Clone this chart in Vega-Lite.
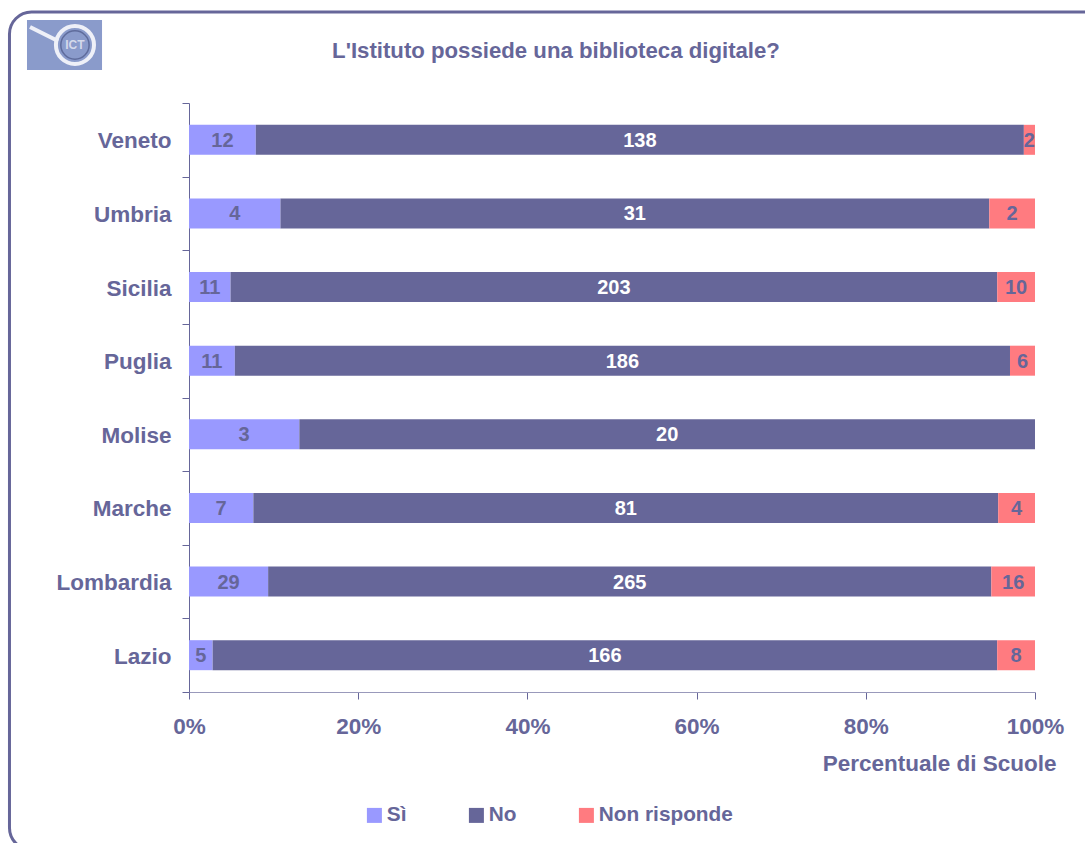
{
  "$schema": "https://vega.github.io/schema/vega-lite/v6.json",
  "width": 846,
  "height": 589,
  "autosize": {"type": "none"},
  "padding": {"left": 189, "top": 103, "right": 50, "bottom": 151},
  "background": "white",
  "view": {"stroke": null},
  "config": {"font": "Liberation Sans"},
  "title": {
    "text": "L'Istituto possiede una biblioteca digitale?",
    "font": "Liberation Sans",
    "fontSize": 22.2,
    "fontWeight": "bold",
    "color": "#666699",
    "anchor": "middle",
    "frame": "group",
    "dx": -56,
    "offset": -52
  },
  "datasets": {
    "rows": [
      {"regione": "Veneto", "risposta": "Sì", "ordine": 1, "scuole": 12},
      {"regione": "Veneto", "risposta": "No", "ordine": 2, "scuole": 138},
      {"regione": "Veneto", "risposta": "Non risponde", "ordine": 3, "scuole": 2},
      {"regione": "Umbria", "risposta": "Sì", "ordine": 1, "scuole": 4},
      {"regione": "Umbria", "risposta": "No", "ordine": 2, "scuole": 31},
      {"regione": "Umbria", "risposta": "Non risponde", "ordine": 3, "scuole": 2},
      {"regione": "Sicilia", "risposta": "Sì", "ordine": 1, "scuole": 11},
      {"regione": "Sicilia", "risposta": "No", "ordine": 2, "scuole": 203},
      {"regione": "Sicilia", "risposta": "Non risponde", "ordine": 3, "scuole": 10},
      {"regione": "Puglia", "risposta": "Sì", "ordine": 1, "scuole": 11},
      {"regione": "Puglia", "risposta": "No", "ordine": 2, "scuole": 186},
      {"regione": "Puglia", "risposta": "Non risponde", "ordine": 3, "scuole": 6},
      {"regione": "Molise", "risposta": "Sì", "ordine": 1, "scuole": 3},
      {"regione": "Molise", "risposta": "No", "ordine": 2, "scuole": 20},
      {"regione": "Marche", "risposta": "Sì", "ordine": 1, "scuole": 7},
      {"regione": "Marche", "risposta": "No", "ordine": 2, "scuole": 81},
      {"regione": "Marche", "risposta": "Non risponde", "ordine": 3, "scuole": 4},
      {"regione": "Lombardia", "risposta": "Sì", "ordine": 1, "scuole": 29},
      {"regione": "Lombardia", "risposta": "No", "ordine": 2, "scuole": 265},
      {"regione": "Lombardia", "risposta": "Non risponde", "ordine": 3, "scuole": 16},
      {"regione": "Lazio", "risposta": "Sì", "ordine": 1, "scuole": 5},
      {"regione": "Lazio", "risposta": "No", "ordine": 2, "scuole": 166},
      {"regione": "Lazio", "risposta": "Non risponde", "ordine": 3, "scuole": 8}
    ]
  },
  "resolve": {
    "scale": {"x": "independent", "y": "independent"},
    "axis": {"x": "independent", "y": "independent"}
  },
  "layer": [
    {
      "data": {"values": [{"x0": -0.2122, "x1": 1.085, "y0": -0.268, "y1": 1.1545}]},
      "mark": {"type": "rect", "fill": "transparent", "stroke": "#666699", "strokeWidth": 3, "cornerRadius": 22, "clip": false},
      "encoding": {
        "x": {"field": "x0", "type": "quantitative", "scale": {"domain": [0, 1], "nice": false}, "axis": null},
        "x2": {"field": "x1"},
        "y": {"field": "y0", "type": "quantitative", "scale": {"domain": [0, 1], "nice": false, "zero": false}, "axis": null},
        "y2": {"field": "y1"}
      }
    },
    {
      "data": {"values": [{"x0": -0.1915, "x1": -0.1028, "y0": 1.056, "y1": 1.1409}]},
      "mark": {"type": "rect", "fill": "#8a9bcb", "clip": false},
      "encoding": {
        "x": {"field": "x0", "type": "quantitative", "scale": {"domain": [0, 1], "nice": false}, "axis": null},
        "x2": {"field": "x1"},
        "y": {"field": "y0", "type": "quantitative", "scale": {"domain": [0, 1], "nice": false, "zero": false}, "axis": null},
        "y2": {"field": "y1"}
      }
    },
    {
      "data": {"values": [{"x0": -0.1879, "x1": -0.1548, "y0": 1.129, "y1": 1.1053}]},
      "mark": {"type": "rule", "color": "#eef0f8", "strokeWidth": 4, "clip": false},
      "encoding": {
        "x": {"field": "x0", "type": "quantitative", "scale": {"domain": [0, 1], "nice": false}, "axis": null},
        "x2": {"field": "x1"},
        "y": {"field": "y0", "type": "quantitative", "scale": {"domain": [0, 1], "nice": false, "zero": false}, "axis": null},
        "y2": {"field": "y1"}
      }
    },
    {
      "data": {"values": [{"cx": -0.1348, "cy": 1.0985}]},
      "mark": {"type": "point", "shape": "circle", "filled": false, "stroke": "#eef0f8", "strokeWidth": 4, "size": 1450, "opacity": 1, "clip": false},
      "encoding": {
        "x": {"field": "cx", "type": "quantitative", "scale": {"domain": [0, 1], "nice": false}, "axis": null},
        "y": {"field": "cy", "type": "quantitative", "scale": {"domain": [0, 1], "nice": false, "zero": false}, "axis": null}
      }
    },
    {
      "data": {"values": [{"cx": -0.1348, "cy": 1.0985}]},
      "mark": {"type": "point", "shape": "circle", "filled": false, "stroke": "#5f6c9c", "strokeWidth": 1.5, "size": 800, "opacity": 1, "clip": false},
      "encoding": {
        "x": {"field": "cx", "type": "quantitative", "scale": {"domain": [0, 1], "nice": false}, "axis": null},
        "y": {"field": "cy", "type": "quantitative", "scale": {"domain": [0, 1], "nice": false, "zero": false}, "axis": null}
      }
    },
    {
      "data": {"values": [{"cx": -0.1348, "cy": 1.0985, "sigla": "ICT"}]},
      "mark": {"type": "text", "color": "#d5d9ea", "fontSize": 12, "fontWeight": "bold", "font": "Liberation Sans", "align": "center", "baseline": "middle", "clip": false},
      "encoding": {
        "x": {"field": "cx", "type": "quantitative", "scale": {"domain": [0, 1], "nice": false}, "axis": null},
        "y": {"field": "cy", "type": "quantitative", "scale": {"domain": [0, 1], "nice": false, "zero": false}, "axis": null},
        "text": {"field": "sigla"}
      }
    },
    {
      "data": {"name": "rows"},
      "mark": {"type": "bar", "height": 30},
      "encoding": {
        "y": {
          "field": "regione",
          "type": "nominal",
          "sort": ["Veneto", "Umbria", "Sicilia", "Puglia", "Molise", "Marche", "Lombardia", "Lazio"],
          "scale": {"type": "band", "padding": 0},
          "axis": {
            "title": null,
            "domainColor": "#666699",
            "tickColor": "#666699",
            "tickSize": 7,
            "tickBand": "extent",
            "labelColor": "#666699",
            "labelFont": "Liberation Sans",
            "labelFontSize": 22.5,
            "labelFontWeight": "bold",
            "labelPadding": 11,
            "labelOffset": 1
          }
        },
        "x": {
          "field": "scuole",
          "type": "quantitative",
          "stack": "normalize",
          "scale": {"domain": [0, 1], "nice": false},
          "axis": {
            "format": ".0%",
            "values": [0, 0.2, 0.4, 0.6, 0.8, 1],
            "title": "Percentuale di Scuole",
            "titleColor": "#666699",
            "titleFont": "Liberation Sans",
            "titleFontSize": 22.5,
            "titleFontWeight": "bold",
            "titleAlign": "right",
            "titleBaseline": "middle",
            "titleAnchor": "end",
            "titleX": 867,
            "titleY": 71,
            "grid": false,
            "domainColor": "#9999bb",
            "tickColor": "#666699",
            "tickSize": 7,
            "labelColor": "#666699",
            "labelFont": "Liberation Sans",
            "labelFontSize": 22.5,
            "labelFontWeight": "bold",
            "labelPadding": 16,
            "labelBound": false,
            "labelFlush": false,
            "labelOverlap": false
          }
        },
        "order": {"field": "ordine", "type": "quantitative"},
        "color": {
          "field": "risposta",
          "type": "nominal",
          "sort": ["Sì", "No", "Non risponde"],
          "scale": {"domain": ["Sì", "No", "Non risponde"], "range": ["#9999ff", "#666699", "#ff7b80"]},
          "legend": {
            "title": null,
            "orient": "none",
            "legendX": 175,
            "legendY": 702,
            "direction": "horizontal",
            "columns": 3,
            "gridAlign": "none",
            "columnPadding": 59,
            "symbolType": "square",
            "symbolSize": 225,
            "symbolStrokeWidth": 0,
            "labelColor": "#666699",
            "labelFont": "Liberation Sans",
            "labelFontSize": 20.8,
            "labelFontWeight": "bold",
            "labelOffset": 2
          }
        }
      }
    },
    {
      "data": {"name": "rows"},
      "mark": {"type": "text", "align": "center", "baseline": "middle", "fontSize": 20, "fontWeight": "bold", "font": "Liberation Sans", "dy": 1},
      "encoding": {
        "y": {
          "field": "regione",
          "type": "nominal",
          "sort": ["Veneto", "Umbria", "Sicilia", "Puglia", "Molise", "Marche", "Lombardia", "Lazio"],
          "scale": {"type": "band", "padding": 0},
          "axis": null
        },
        "x": {"field": "scuole", "type": "quantitative", "stack": "normalize", "bandPosition": 0.5, "scale": {"domain": [0, 1], "nice": false}, "axis": null},
        "order": {"field": "ordine", "type": "quantitative"},
        "text": {"field": "scuole", "type": "quantitative"},
        "color": {
          "condition": {"test": "datum.risposta === 'No'", "value": "white"},
          "value": "#666699"
        }
      }
    }
  ]
}
